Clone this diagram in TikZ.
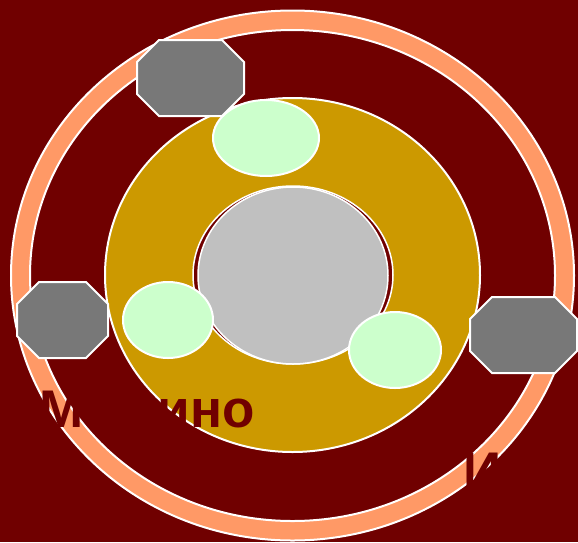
\documentclass[tikz,border=0pt]{standalone}
\usepackage{fontspec}
\setmainfont{Liberation Sans}
\usepackage{tikz}

\definecolor{bgred}{HTML}{700000}
\definecolor{ringorange}{HTML}{FF9966}
\definecolor{diskgold}{HTML}{CC9900}
\definecolor{hubgrey}{HTML}{C0C0C0}
\definecolor{padgreen}{HTML}{CCFFCC}
\definecolor{boxgrey}{HTML}{787878}

\tikzset{
  outline/.style={draw=white, line width=2pt},
  label/.style={text=bgred, font=\fontsize{53}{64}\selectfont\bfseries, inner sep=0pt, anchor=base west}
}

\begin{document}
\begin{tikzpicture}[x=1pt, y=-1pt]

% background
\useasboundingbox (0,0) rectangle (578,542);
\fill[bgred] (0,0) rectangle (578,542);

% outer ring
\filldraw[fill=ringorange, outline] (292.5,275.5) ellipse [x radius=281.5pt, y radius=265pt];
\filldraw[fill=bgred, outline] (292.5,275.5) ellipse [x radius=262.5pt, y radius=245.5pt];

% disk
\filldraw[fill=diskgold, outline] (292.5,275) ellipse [x radius=187.5pt, y radius=177pt];

% hub
\filldraw[fill=bgred, draw=white, line width=1.5pt] (293,275) ellipse [x radius=100pt, y radius=89pt];
\filldraw[fill=hubgrey, draw=white, line width=1.5pt] (293,275.5) ellipse [x radius=95pt, y radius=88.5pt];

% pads
\filldraw[fill=padgreen, outline] (266,138) ellipse [x radius=53pt, y radius=38pt];
\filldraw[fill=padgreen, outline] (168,320) ellipse [x radius=45pt, y radius=38pt];
\filldraw[fill=padgreen, outline] (395,350) ellipse [x radius=46pt, y radius=38pt];

% boxes
\foreach \cx/\cy/\hw in {190.5/78/53.5, 62.5/320/45.5, 523.5/335/53.5} {
  \filldraw[fill=boxgrey, outline]
    (\cx-\hw+22,\cy-38) -- (\cx+\hw-22,\cy-38) -- (\cx+\hw,\cy-16) -- (\cx+\hw,\cy+16)
    -- (\cx+\hw-22,\cy+38) -- (\cx-\hw+22,\cy+38) -- (\cx-\hw,\cy+16) -- (\cx-\hw,\cy-16) -- cycle;
}

% labels
\node[label] (mash) at (39,427) {Машино};
\node[label] (iletter) at (463,489) {И};

\end{tikzpicture}
\end{document}
